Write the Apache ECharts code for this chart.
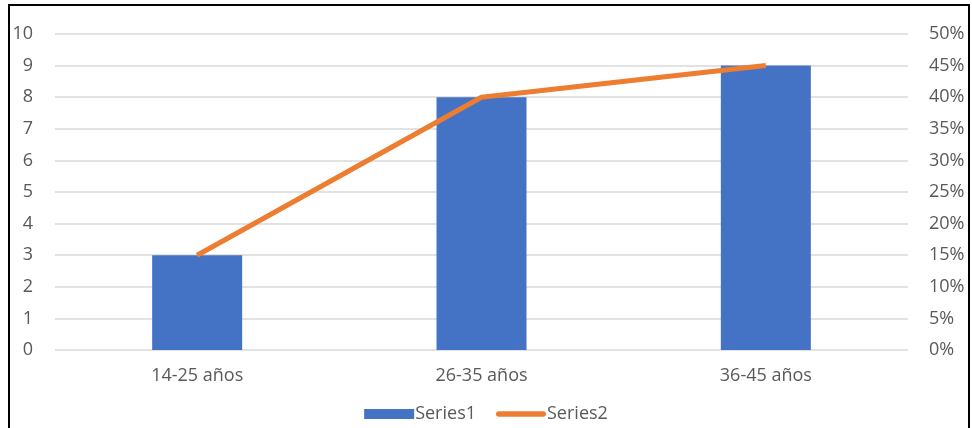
<!DOCTYPE html>
<html>
<head>
<meta charset="utf-8">
<script src="https://cdn.jsdelivr.net/npm/echarts@6/dist/echarts.min.js"></script>
<style>
  html, body { margin: 0; padding: 0; background: #fff; }
  #chart { width: 972px; height: 428px; }
</style>
</head>
<body>
<div id="chart"></div>
<script>
const categories = ['14-25 años', '26-35 años', '36-45 años']
const series1 = [3, 8, 9]
const series2 = [15, 40, 45]

const mychart = echarts.init(document.getElementById('chart'))

const labelFont = { color: '#595959', fontSize: 18, fontFamily: 'Open Sans' }

mychart.setOption({
  animation: false,
  grid: { left: 55, right: 64, top: 34, bottom: 78 },
  graphic: [{
    type: 'polyline',
    shape: { points: [[9, 428], [9, 5], [969, 5], [969, 428]] },
    style: { stroke: '#000', lineWidth: 2, fill: null }
  }],
  legend: {
    data: [
      { name: 'Series1', icon: 'rect' },
      { name: 'Series2', icon: 'path://M3,0 L51,0 A3,3 0 0 1 51,6 L3,6 A3,3 0 0 1 3,0 Z' }
    ],
    bottom: 0,
    left: 'center',
    itemGap: 20,
    itemWidth: 50,
    itemHeight: 10,
    textStyle: { ...labelFont, padding: [0, 0, 0, -4] }
  },
  xAxis: {
    type: 'category',
    data: categories,
    axisLine: { show: false },
    axisTick: { show: false },
    axisLabel: { ...labelFont, margin: 17 }
  },
  yAxis: [{
    type: 'value',
    min: 0, max: 10, interval: 1,
    axisLine: { show: false },
    axisTick: { show: false },
    splitLine: { lineStyle: { color: '#d9d9d9', width: 1.5 } },
    axisLabel: { ...labelFont, margin: 22 }
  }, {
    type: 'value',
    min: 0, max: 50, interval: 5,
    axisLine: { show: false },
    axisTick: { show: false },
    splitLine: { show: false },
    axisLabel: { ...labelFont, margin: 21, formatter: '{value}%' }
  }],
  series: [{
    name: 'Series1',
    type: 'bar',
    data: series1,
    barWidth: 90,
    itemStyle: { color: '#4472C4' }
  }, {
    name: 'Series2',
    type: 'line',
    yAxisIndex: 1,
    data: series2,
    symbol: 'none',
    lineStyle: { color: '#ED7D31', width: 5 },
    itemStyle: { color: '#ED7D31' }
  }]
})
</script>
</body>
</html>
